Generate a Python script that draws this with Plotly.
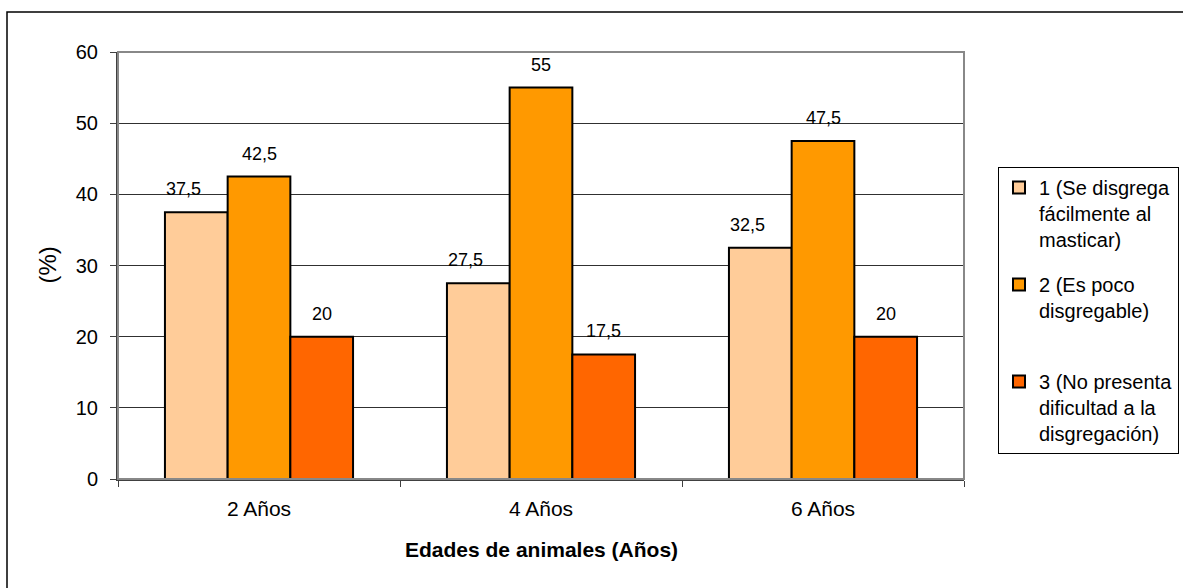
import plotly.graph_objects as go

# Chart data
edades = ["2 Años", "4 Años", "6 Años"]
serie_1 = [37.5, 27.5, 32.5]
serie_2 = [42.5, 55, 47.5]
serie_3 = [20, 17.5, 20]
nombres = [
    "1 (Se disgrega<br>fácilmente al<br>masticar)",
    "2 (Es poco<br>disgregable)<br> ",
    "3 (No presenta<br>dificultad a la<br>disgregación)",
]
colores = ["#FFCC99", "#FF9900", "#FF6600"]
y_ticks = [0, 10, 20, 30, 40, 50, 60]

FONT = "Liberation Sans, Arial, sans-serif"
W, H = 1183, 588
L, R, T, B = 118, 219, 52, 109
plot_w = W - L - R
plot_h = H - T - B

fig = go.Figure()
series = [serie_1, serie_2, serie_3]
for i, (vals, name, col) in enumerate(zip(series, nombres, colores)):
    fig.add_trace(go.Bar(
        x=edades, y=vals, name=name,
        marker=dict(color=col, line=dict(color="#000000", width=2)),
        legendgroup=f"g{i}",
    ))

# value labels above each bar
bar_px = plot_w / len(edades) * (1 - 0.333) / 3
label_dx = [-13, 0, 0]
annotations = []
for i, vals in enumerate(series):
    for cat, v in zip(edades, vals):
        annotations.append(dict(
            x=cat, y=v, xref="x", yref="y",
            text=f"{v:g}".replace(".", ","),
            showarrow=False, yanchor="bottom",
            xshift=(i - 1) * bar_px + label_dx[i], yshift=11,
            font=dict(family=FONT, size=18, color="#000000"),
        ))

annotations.append(dict(
    x=(47 - L) / plot_w, y=0.5, xref="paper", yref="paper",
    xanchor="center", yanchor="middle",
    text="(%)", textangle=-90, showarrow=False,
    font=dict(family=FONT, size=24, color="#000000"),
))
annotations.append(dict(
    x=0.5, y=(479 - 549) / plot_h, xref="paper", yref="paper",
    xanchor="center", yanchor="middle",
    text="<b>Edades de animales (Años)</b>", showarrow=False,
    font=dict(family=FONT, size=21, color="#000000"),
))

shapes = [
    # plot area frame
    dict(type="rect", xref="paper", yref="paper", x0=0, x1=1, y0=0, y1=1,
         line=dict(color="#888888", width=2), layer="above"),
    # outer chart frame
    dict(type="rect", xref="paper", yref="paper",
         x0=(7 - L) / plot_w, x1=(1200 - L) / plot_w,
         y0=-0.4, y1=(479 - 12) / plot_h,
         line=dict(color="#000000", width=1.5), layer="below"),
]

fig.update_layout(
    width=W, height=H,
    margin=dict(l=L, r=R, t=T, b=B, pad=0, autoexpand=False),
    paper_bgcolor="#FFFFFF", plot_bgcolor="#FFFFFF",
    barmode="group", bargap=0.333, bargroupgap=0,
    font=dict(family=FONT, size=20, color="#000000"),
    showlegend=True,
    legend=dict(
        x=(998 - L) / plot_w, y=(479 - 167) / plot_h,
        xanchor="left", yanchor="top",
        bordercolor="#000000", borderwidth=1, bgcolor="#FFFFFF",
        font=dict(family=FONT, size=20, color="#000000"),
        valign="top", tracegroupgap=16, traceorder="grouped",
        itemwidth=30,
    ),
    annotations=annotations,
    shapes=shapes,
)

fig.update_xaxes(
    type="category", tickson="boundaries", ticks="outside", ticklen=6,
    tickcolor="#404040", tickwidth=1,
    showline=True, linecolor="#404040", linewidth=2,
    showgrid=False, ticklabelstandoff=10,
    tickfont=dict(family=FONT, size=21, color="#000000"),
)
fig.update_yaxes(
    range=[0, 60], tickvals=y_ticks, ticks="outside", ticklen=6,
    tickcolor="#404040", tickwidth=1,
    showline=True, linecolor="#404040", linewidth=2,
    showgrid=True, gridcolor="#303030", gridwidth=1,
    zeroline=False, ticklabelstandoff=8,
    tickfont=dict(family=FONT, size=20, color="#000000"),
)

fig.write_html("out.html")
